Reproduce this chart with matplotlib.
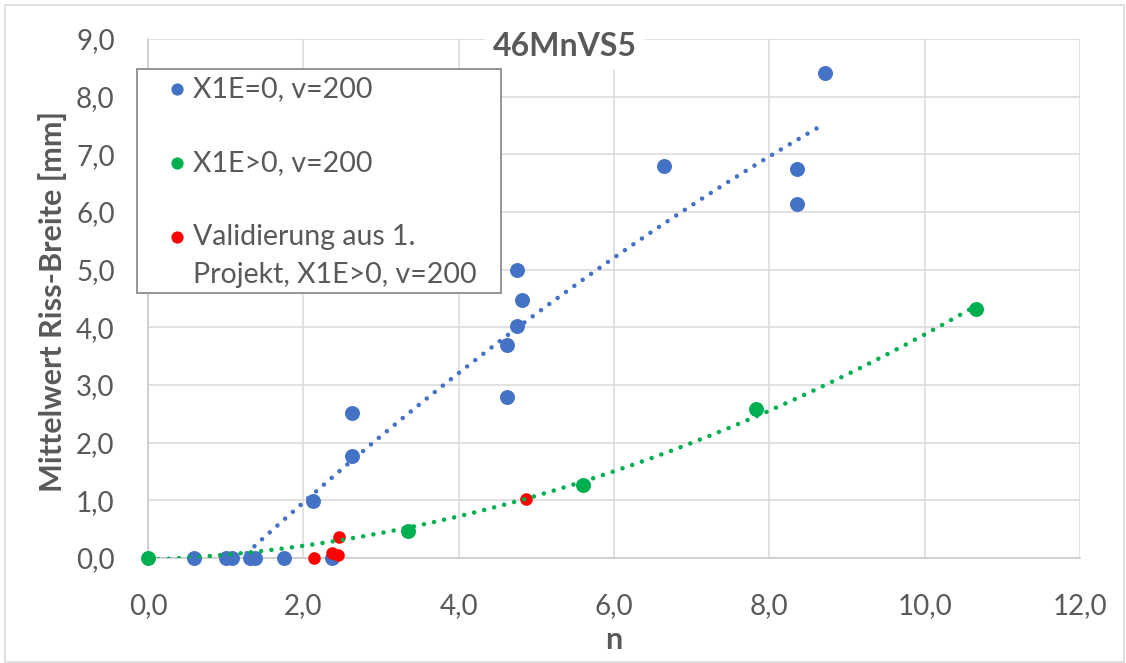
import numpy as np
import matplotlib
matplotlib.use("Agg")
import matplotlib.pyplot as plt
from matplotlib.lines import Line2D
from matplotlib.patches import Rectangle

plt.rcParams['font.family'] = ['Lato', 'DejaVu Sans']

# X1E=0, v=200
n_x1e0 = [0.59, 1.01, 1.08, 1.31, 1.38, 1.75, 2.13, 2.37, 2.63, 2.63,
          4.62, 4.62, 4.75, 4.75, 4.82, 6.64, 8.36, 8.36, 8.72]
w_x1e0 = [0.0, 0.0, 0.0, 0.0, 0.0, 0.0, 0.98, 0.0, 2.51, 1.77,
          3.70, 2.79, 4.99, 4.02, 4.48, 6.80, 6.74, 6.14, 8.41]
# X1E>0, v=200
n_x1e1 = [0.0, 3.35, 5.60, 7.83, 10.66]
w_x1e1 = [0.0, 0.47, 1.27, 2.59, 4.32]
# Validierung aus 1. Projekt
n_val = [2.14, 2.37, 2.45, 2.46, 4.87]
w_val = [0.0, 0.09, 0.05, 0.36, 1.02]

labels = ["X1E=0, v=200", "X1E>0, v=200", "Validierung aus 1.", "Projekt, X1E>0, v=200"]

BLUE = '#4472C4'
GREEN = '#00B050'
RED = '#FF0000'
GREY = '#595959'

W, H = 1126, 663
fig = plt.figure(figsize=(W / 100, H / 100), dpi=100)
ax = fig.add_axes([148 / W, 1 - 558 / H, (1080 - 148) / W, (558 - 39) / H])

# outer chart frame
fig.add_artist(Rectangle((5 / W, 1 / H), (1124 - 5) / W, (658 - 1) / H,
                         transform=fig.transFigure, fill=False,
                         edgecolor='#D9D9D9', lw=1.2))

ax.scatter(n_x1e0, w_x1e0, s=116, color=BLUE, zorder=3, clip_on=False, linewidths=0)
ax.scatter(n_x1e1, w_x1e1, s=116, color=GREEN, zorder=3, clip_on=False, linewidths=0)
ax.scatter(n_val, w_val, s=82, color=RED, zorder=3.5, clip_on=False, linewidths=0)

# trend lines
dots = (0, (0.001, 2.25))
pb = np.polyfit(n_x1e0, w_x1e0, 2)
xb = np.linspace(min(n_x1e0), max(n_x1e0), 300)
ax.plot(xb, np.polyval(pb, xb), color=BLUE, lw=3.3, linestyle=dots,
        dash_capstyle='round', zorder=4)
pg = np.polyfit(n_x1e1, w_x1e1, 2)
xg = np.linspace(min(n_x1e1), max(n_x1e1), 300)
ax.plot(xg, np.polyval(pg, xg), color=GREEN, lw=3.3, linestyle=dots,
        dash_capstyle='round', zorder=4)

ax.set_xlim(0, 12)
ax.set_ylim(0, 9)
ax.set_xticks(np.arange(0, 13, 2))
ax.set_yticks(np.arange(0, 10, 1))
fmt = lambda v, pos: f"{v:.1f}".replace('.', ',')
ax.xaxis.set_major_formatter(plt.FuncFormatter(fmt))
ax.yaxis.set_major_formatter(plt.FuncFormatter(fmt))
ax.tick_params(length=0, labelsize=20, labelcolor=GREY)
ax.tick_params(axis='x', pad=25)
ax.tick_params(axis='y', pad=24)
ax.grid(True, color='#D9D9D9', lw=1.1, zorder=0)
ax.set_axisbelow(True)
for s in ['top', 'right']:
    ax.spines[s].set_visible(False)
for s in ['left', 'bottom']:
    ax.spines[s].set_color('#C8C8C8')
    ax.spines[s].set_linewidth(1.1)

fig.text(565 / W, 1 - 47 / H, "46MnVS5", ha='center', va='center', fontsize=23,
         fontweight='bold', color=GREY, zorder=5,
         bbox=dict(facecolor='white', edgecolor='none', pad=6))
fig.text(614 / W, 1 - 640 / H, "n", ha='center', va='center', fontsize=22,
         fontweight='bold', color=GREY)
fig.text(53 / W, 1 - 302 / H, "Mittelwert Riss-Breite [mm]", ha='center', va='center',
         rotation=90, fontsize=22, fontweight='bold', color=GREY)

# legend box
fig.add_artist(Rectangle((137 / W, 1 - 293 / H), (501 - 137) / W, (293 - 69) / H,
                         transform=fig.transFigure, facecolor='white',
                         edgecolor='#8C8C8C', lw=1.3, zorder=6))
for yc, col in zip([89, 163, 237], [BLUE, GREEN, RED]):
    fig.add_artist(Line2D([177 / W], [1 - yc / H], marker='o', markersize=8.8,
                          color=col, markeredgewidth=0,
                          transform=fig.transFigure, zorder=7))
for yc, txt in zip([89, 163, 237, 275], labels):
    fig.text(193 / W, 1 - yc / H, txt, ha='left', va='center', fontsize=20.5,
             color=GREY, zorder=7)

fig.savefig("out.png", dpi=100)
